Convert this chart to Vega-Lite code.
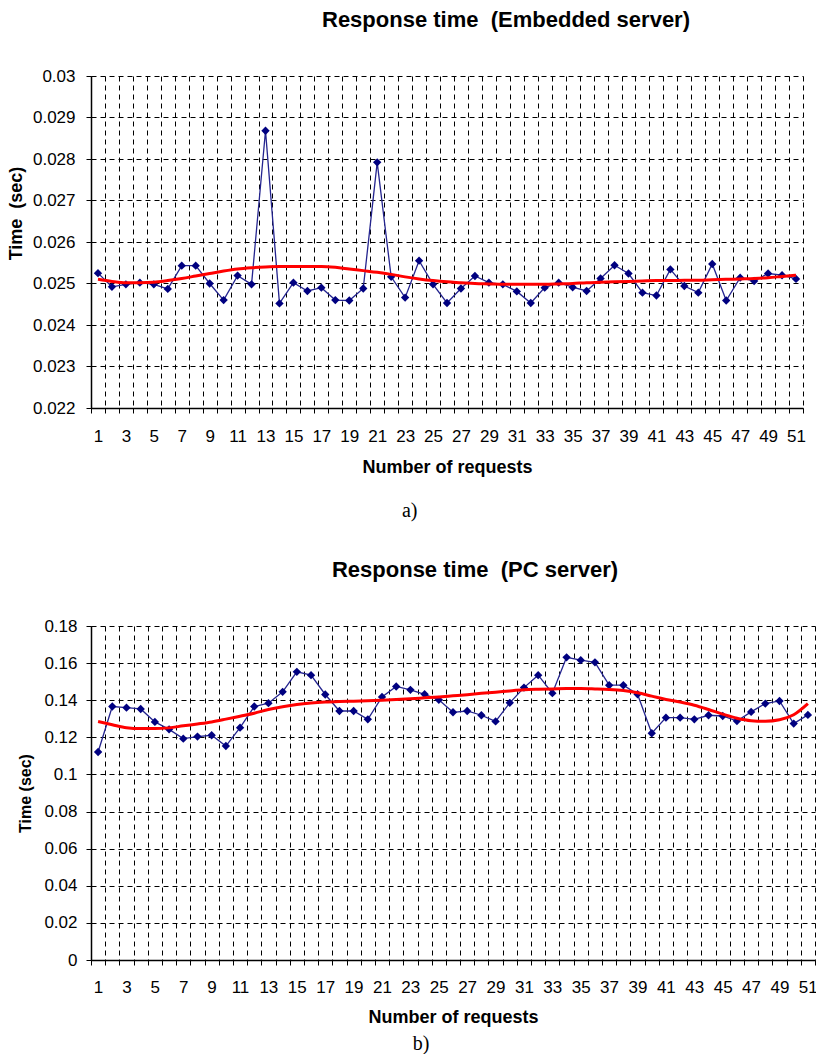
{
  "$schema": "https://vega.github.io/schema/vega-lite/v6.json",
  "padding": {"left": 7, "top": 9, "right": 0, "bottom": 0},
  "background": "white",
  "config": {
    "view": {"stroke": null},
    "font": "Liberation Sans",
    "axis": {
      "domainColor": "#000000", "domainWidth": 1.5,
      "tickColor": "#000000", "tickWidth": 1,
      "gridColor": "#000000", "gridDash": [5, 4], "gridWidth": 1, "gridOpacity": 1,
      "labelFont": "Liberation Sans", "labelFontSize": 17, "labelColor": "#000000",
      "titleFont": "Liberation Sans", "titleFontWeight": "bold", "titleColor": "#000000",
      "labelFlush": false, "labelOverlap": false, "labelBound": false
    }
  },
  "datasets": {
    "emb": [
      {"n": 1, "t": 0.02525, "trend": 0.02510},
      {"n": 2, "t": 0.02492, "trend": 0.02505},
      {"n": 3, "t": 0.02498, "trend": 0.02502},
      {"n": 4, "t": 0.02502, "trend": 0.02502},
      {"n": 5, "t": 0.02498, "trend": 0.02503},
      {"n": 6, "t": 0.02487, "trend": 0.02507},
      {"n": 7, "t": 0.02543, "trend": 0.02512},
      {"n": 8, "t": 0.02543, "trend": 0.02518},
      {"n": 9, "t": 0.02500, "trend": 0.02524},
      {"n": 10, "t": 0.02460, "trend": 0.02530},
      {"n": 11, "t": 0.02519, "trend": 0.02535},
      {"n": 12, "t": 0.02498, "trend": 0.02538},
      {"n": 13, "t": 0.02868, "trend": 0.02540},
      {"n": 14, "t": 0.02452, "trend": 0.02541},
      {"n": 15, "t": 0.02502, "trend": 0.02541},
      {"n": 16, "t": 0.02482, "trend": 0.02541},
      {"n": 17, "t": 0.02490, "trend": 0.02541},
      {"n": 18, "t": 0.02460, "trend": 0.02539},
      {"n": 19, "t": 0.02459, "trend": 0.02535},
      {"n": 20, "t": 0.02488, "trend": 0.02531},
      {"n": 21, "t": 0.02792, "trend": 0.02527},
      {"n": 22, "t": 0.02516, "trend": 0.02522},
      {"n": 23, "t": 0.02466, "trend": 0.02516},
      {"n": 24, "t": 0.02555, "trend": 0.02511},
      {"n": 25, "t": 0.02498, "trend": 0.02507},
      {"n": 26, "t": 0.02453, "trend": 0.02504},
      {"n": 27, "t": 0.02488, "trend": 0.02502},
      {"n": 28, "t": 0.02518, "trend": 0.02500},
      {"n": 29, "t": 0.02502, "trend": 0.02499},
      {"n": 30, "t": 0.02498, "trend": 0.02498},
      {"n": 31, "t": 0.02481, "trend": 0.02498},
      {"n": 32, "t": 0.02453, "trend": 0.02498},
      {"n": 33, "t": 0.02490, "trend": 0.02498},
      {"n": 34, "t": 0.02502, "trend": 0.02499},
      {"n": 35, "t": 0.02491, "trend": 0.02500},
      {"n": 36, "t": 0.02482, "trend": 0.02502},
      {"n": 37, "t": 0.02512, "trend": 0.02503},
      {"n": 38, "t": 0.02544, "trend": 0.02504},
      {"n": 39, "t": 0.02524, "trend": 0.02505},
      {"n": 40, "t": 0.02478, "trend": 0.02506},
      {"n": 41, "t": 0.02471, "trend": 0.02507},
      {"n": 42, "t": 0.02534, "trend": 0.02507},
      {"n": 43, "t": 0.02494, "trend": 0.02508},
      {"n": 44, "t": 0.02478, "trend": 0.02508},
      {"n": 45, "t": 0.02547, "trend": 0.02509},
      {"n": 46, "t": 0.02459, "trend": 0.02510},
      {"n": 47, "t": 0.02514, "trend": 0.02511},
      {"n": 48, "t": 0.02506, "trend": 0.02512},
      {"n": 49, "t": 0.02524, "trend": 0.02514},
      {"n": 50, "t": 0.02520, "trend": 0.02517},
      {"n": 51, "t": 0.02511, "trend": 0.02520}
    ],
    "pc": [
      {"n": 1, "t": 0.1121, "trend": 0.1285},
      {"n": 2, "t": 0.1366, "trend": 0.1268},
      {"n": 3, "t": 0.1360, "trend": 0.1252},
      {"n": 4, "t": 0.1353, "trend": 0.1247},
      {"n": 5, "t": 0.1283, "trend": 0.1247},
      {"n": 6, "t": 0.1243, "trend": 0.1251},
      {"n": 7, "t": 0.1193, "trend": 0.1262},
      {"n": 8, "t": 0.1204, "trend": 0.1272},
      {"n": 9, "t": 0.1211, "trend": 0.1283},
      {"n": 10, "t": 0.1153, "trend": 0.1298},
      {"n": 11, "t": 0.1252, "trend": 0.1314},
      {"n": 12, "t": 0.1366, "trend": 0.1330},
      {"n": 13, "t": 0.1384, "trend": 0.1350},
      {"n": 14, "t": 0.1445, "trend": 0.1365},
      {"n": 15, "t": 0.1553, "trend": 0.1377},
      {"n": 16, "t": 0.1535, "trend": 0.1385},
      {"n": 17, "t": 0.1431, "trend": 0.1390},
      {"n": 18, "t": 0.1342, "trend": 0.1393},
      {"n": 19, "t": 0.1342, "trend": 0.1395},
      {"n": 20, "t": 0.1297, "trend": 0.1397},
      {"n": 21, "t": 0.1418, "trend": 0.1400},
      {"n": 22, "t": 0.1474, "trend": 0.1404},
      {"n": 23, "t": 0.1456, "trend": 0.1408},
      {"n": 24, "t": 0.1432, "trend": 0.1413},
      {"n": 25, "t": 0.1402, "trend": 0.1418},
      {"n": 26, "t": 0.1335, "trend": 0.1424},
      {"n": 27, "t": 0.1342, "trend": 0.1430},
      {"n": 28, "t": 0.1319, "trend": 0.1437},
      {"n": 29, "t": 0.1286, "trend": 0.1443},
      {"n": 30, "t": 0.1386, "trend": 0.1450},
      {"n": 31, "t": 0.1468, "trend": 0.1456},
      {"n": 32, "t": 0.1535, "trend": 0.1459},
      {"n": 33, "t": 0.1438, "trend": 0.1461},
      {"n": 34, "t": 0.1631, "trend": 0.1463},
      {"n": 35, "t": 0.1616, "trend": 0.1463},
      {"n": 36, "t": 0.1604, "trend": 0.1461},
      {"n": 37, "t": 0.1481, "trend": 0.1458},
      {"n": 38, "t": 0.1481, "trend": 0.1452},
      {"n": 39, "t": 0.1432, "trend": 0.1440},
      {"n": 40, "t": 0.1222, "trend": 0.1422},
      {"n": 41, "t": 0.1306, "trend": 0.1404},
      {"n": 42, "t": 0.1306, "trend": 0.1390},
      {"n": 43, "t": 0.1297, "trend": 0.1373},
      {"n": 44, "t": 0.1319, "trend": 0.1350},
      {"n": 45, "t": 0.1315, "trend": 0.1325},
      {"n": 46, "t": 0.1288, "trend": 0.1303},
      {"n": 47, "t": 0.1337, "trend": 0.1290},
      {"n": 48, "t": 0.1382, "trend": 0.1287},
      {"n": 49, "t": 0.1396, "trend": 0.1295},
      {"n": 50, "t": 0.1274, "trend": 0.1322},
      {"n": 51, "t": 0.1321, "trend": 0.1382}
    ]
  },
  "align": "none",
  "spacing": 38,
  "vconcat": [
    {
      "title": {"text": "a)", "orient": "bottom", "font": "Liberation Serif", "fontSize": 20, "fontWeight": "normal", "color": "#000000", "anchor": "middle", "offset": 25, "dx": 1},
      "vconcat": [
        {
          "width": 712,
          "height": 332,
          "title": {"text": "Response time \u00a0(Embedded server)", "font": "Liberation Sans", "fontSize": 22, "fontWeight": "bold", "color": "#000000", "anchor": "middle", "frame": "group", "dx": 59, "offset": 35},
          "data": {"name": "emb"},
          "encoding": {
            "x": {
              "field": "n", "type": "quantitative",
              "scale": {"domain": [0.5, 51.5], "nice": false, "zero": false},
              "axis": {
                "values": [0.5,1.5,2.5,3.5,4.5,5.5,6.5,7.5,8.5,9.5,10.5,11.5,12.5,13.5,14.5,15.5,16.5,17.5,18.5,19.5,20.5,21.5,22.5,23.5,24.5,25.5,26.5,27.5,28.5,29.5,30.5,31.5,32.5,33.5,34.5,35.5,36.5,37.5,38.5,39.5,40.5,41.5,42.5,43.5,44.5,45.5,46.5,47.5,48.5,49.5,50.5,51.5],
                "labelExpr": "(datum.value - 0.5) % 2 == 0 ? format(datum.value + 0.5, 'd') : ''",
                "labelOffset": 7, "labelPadding": 15, "tickSize": 5,
                "grid": true, "title": "Number of requests", "titleFontSize": 18, "titlePadding": 14
              }
            },
            "y": {
              "field": "t", "type": "quantitative",
              "scale": {"domain": [0.022, 0.03], "nice": false, "zero": false},
              "axis": {
                "values": [0.022, 0.023, 0.024, 0.025, 0.026, 0.027, 0.028, 0.029, 0.03],
                "format": ".3~f", "tickSize": 5, "labelPadding": 11, "grid": true,
                "title": "Time \u00a0(sec)", "titleFontSize": 18, "titlePadding": 7, "titleY": 137
              }
            }
          },
          "layer": [
            {"mark": {"type": "line", "color": "#24248f", "strokeWidth": 1.3}},
            {"mark": {"type": "point", "shape": "diamond", "filled": true, "color": "#000080", "size": 70, "opacity": 1}},
            {"mark": {"type": "line", "color": "#ff0000", "strokeWidth": 3, "interpolate": "monotone"}, "encoding": {"y": {"field": "trend", "type": "quantitative"}}}
          ]
        }
      ]
    },
    {
      "title": {"text": "b)", "orient": "bottom", "font": "Liberation Serif", "fontSize": 20, "fontWeight": "normal", "color": "#000000", "anchor": "middle", "offset": 8, "dx": 1},
      "vconcat": [
        {
          "width": 724,
          "height": 334,
          "title": {"text": "Response time \u00a0(PC server)", "font": "Liberation Sans", "fontSize": 22, "fontWeight": "bold", "color": "#000000", "anchor": "middle", "frame": "group", "dx": 22, "offset": 35},
          "data": {"name": "pc"},
          "encoding": {
            "x": {
              "field": "n", "type": "quantitative",
              "scale": {"domain": [0.5, 51.5], "nice": false, "zero": false},
              "axis": {
                "values": [0.5,1.5,2.5,3.5,4.5,5.5,6.5,7.5,8.5,9.5,10.5,11.5,12.5,13.5,14.5,15.5,16.5,17.5,18.5,19.5,20.5,21.5,22.5,23.5,24.5,25.5,26.5,27.5,28.5,29.5,30.5,31.5,32.5,33.5,34.5,35.5,36.5,37.5,38.5,39.5,40.5,41.5,42.5,43.5,44.5,45.5,46.5,47.5,48.5,49.5,50.5,51.5],
                "labelExpr": "(datum.value - 0.5) % 2 == 0 ? format(datum.value + 0.5, 'd') : ''",
                "labelOffset": 7, "labelPadding": 14, "tickSize": 5,
                "grid": true, "title": "Number of requests", "titleFontSize": 18, "titlePadding": 13
              }
            },
            "y": {
              "field": "t", "type": "quantitative",
              "scale": {"domain": [0, 0.18], "nice": false, "zero": false},
              "axis": {
                "values": [0, 0.02, 0.04, 0.06, 0.08, 0.1, 0.12, 0.14, 0.16, 0.18],
                "format": ".2~f", "tickSize": 5, "labelPadding": 9, "grid": true,
                "title": "Time (sec)", "titleFontSize": 16, "titlePadding": 10
              }
            }
          },
          "layer": [
            {"mark": {"type": "line", "color": "#24248f", "strokeWidth": 1.3}},
            {"mark": {"type": "point", "shape": "diamond", "filled": true, "color": "#000080", "size": 70, "opacity": 1}},
            {"mark": {"type": "line", "color": "#ff0000", "strokeWidth": 3, "interpolate": "monotone"}, "encoding": {"y": {"field": "trend", "type": "quantitative"}}}
          ]
        }
      ]
    }
  ]
}
